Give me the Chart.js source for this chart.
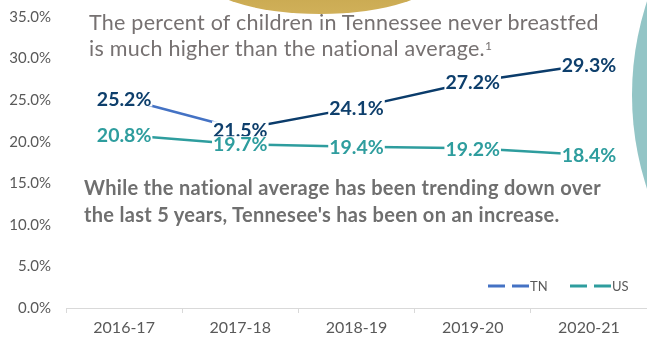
<!DOCTYPE html>
<html>
<head>
<meta charset="utf-8">
<script src="https://cdn.jsdelivr.net/npm/chart.js@4"></script>
<style>
  html, body { margin:0; padding:0; background:#fff; }
  #wrap { position:relative; width:647px; height:341px; overflow:hidden; background:#fff; }
  #gold { position:absolute; left:200px; top:-66px; width:240px; height:80px; border-radius:50%;
          background:linear-gradient(180deg,#b8963a 0%,#d0b059 100%); }
  #teal { position:absolute; left:632px; top:-205px; width:600px; height:600px; border-radius:50%; background:#93C5C6; }
  #c { position:absolute; left:0; top:0; }
  #title { position:absolute; left:89px; top:9px; font-family:Lato, sans-serif; font-size:21.5px; line-height:26px;
           letter-spacing:0.25px; color:#767171; white-space:nowrap; }
  #title sup { font-size:12px; position:relative; top:-2px; vertical-align:top; }
  #note { position:absolute; left:84px; top:174px; font-family:Lato, sans-serif; font-weight:bold; font-size:20px;
          line-height:27px; letter-spacing:0.3px; color:#6F6F6F; white-space:nowrap; }
</style>
</head>
<body>
<div id="wrap">
  <div id="gold"></div>
  <div id="teal"></div>
  <canvas id="c" width="647" height="341"></canvas>
  <div id="title">The percent of children in Tennessee never breastfed<br>is much higher than the national average.<sup>1</sup></div>
  <div id="note">While the national average has been trending down over<br>the last 5 years, Tennesee's has been on an increase.</div>
</div>
<script>
const categories = ['2016-17', '2017-18', '2018-19', '2019-20', '2020-21'];
const seriesNames = ['TN', 'US'];
const tnValues = [25.2, 21.5, 24.1, 27.2, 29.3];
const usValues = [20.8, 19.7, 19.4, 19.2, 18.4];
const yMin = 0, yMax = 35, yStep = 5;

const TN_LIGHT = '#4472C4', TN_DARK = '#0B3C6B', TN_LABEL = '#0E3F6C';
const US_COLOR = '#2E9D9E';

const labelPlugin = {
  id: 'valueLabels',
  afterDatasetsDraw(chart) {
    const ctx = chart.ctx;
    ctx.save();
    ctx.font = 'bold 19.5px Lato, sans-serif';
    ctx.textAlign = 'center';
    ctx.textBaseline = 'middle';
    chart.data.datasets.forEach((ds, di) => {
      const meta = chart.getDatasetMeta(di);
      meta.data.forEach((pt, i) => {
        const txt = ds.data[i].toFixed(1) + '%';
        const w = ctx.measureText(txt).width;
        ctx.fillStyle = '#ffffff';
        ctx.fillRect(pt.x - w / 2 - 1, pt.y - 8, w + 2, 16);
        ctx.fillStyle = ds.labelColor;
        ctx.fillText(txt, pt.x, pt.y + 1);
      });
    });
    ctx.restore();
  }
};

const legendPlugin = {
  id: 'dashLegend',
  afterDraw(chart) {
    const ctx = chart.ctx;
    ctx.save();
    ctx.font = '13px Lato, sans-serif';
    ctx.textBaseline = 'middle';
    const starts = [488, 570];
    const y = 286;
    chart.data.datasets.forEach((ds, di) => {
      const x0 = starts[di];
      ctx.strokeStyle = ds.legendColor;
      ctx.lineWidth = 3;
      ctx.beginPath();
      ctx.moveTo(x0, y); ctx.lineTo(x0 + 17, y);
      ctx.moveTo(x0 + 24, y); ctx.lineTo(x0 + 41, y);
      ctx.stroke();
      ctx.fillStyle = '#595959';
      ctx.textAlign = 'left';
      ctx.fillText(ds.label, x0 + 42, y + 1);
    });
    ctx.restore();
  }
};

function start() {
  new Chart(document.getElementById('c'), {
    type: 'line',
    data: {
      labels: categories,
      datasets: [
        {
          label: seriesNames[0], data: tnValues, borderWidth: 2.5, pointRadius: 0, tension: 0,
          borderColor: TN_DARK, labelColor: TN_LABEL, legendColor: TN_LIGHT,
          segment: { borderColor: c => c.p0DataIndex === 0 ? TN_LIGHT : TN_DARK }
        },
        {
          label: seriesNames[1], data: usValues, borderWidth: 2.5, pointRadius: 0, tension: 0,
          borderColor: US_COLOR, labelColor: US_COLOR, legendColor: US_COLOR
        }
      ]
    },
    options: {
      responsive: false,
      animation: false,
      devicePixelRatio: 1,
      layout: { padding: { top: 17, left: 0, right: 0, bottom: 0 } },
      plugins: { legend: { display: false }, tooltip: { enabled: false } },
      scales: {
        x: {
          offset: true,
          grid: { offset: true, drawOnChartArea: false, drawTicks: true, tickLength: 5, color: '#D9D9D9' },
          border: { display: true, color: '#D9D9D9', width: 1 },
          ticks: { color: '#595959', font: { family: 'Lato', size: 16 }, padding: 5, maxRotation: 0 },
          afterFit: s => { s.height = 33; }
        },
        y: {
          min: yMin, max: yMax,
          ticks: { stepSize: yStep, callback: v => v.toFixed(1) + '%', color: '#595959',
                   font: { family: 'Lato', size: 15 }, padding: 3 },
          grid: { display: true, drawOnChartArea: false, drawTicks: true, tickLength: 12, color: 'rgba(0,0,0,0)' },
          border: { display: false },
          afterFit: s => { s.width = 66; }
        }
      }
    },
    plugins: [labelPlugin, legendPlugin]
  });
}
if (document.fonts && document.fonts.load) {
  Promise.all([document.fonts.load('16px Lato'), document.fonts.load('bold 19px Lato')]).then(start, start);
} else { start(); }
</script>
</body>
</html>
